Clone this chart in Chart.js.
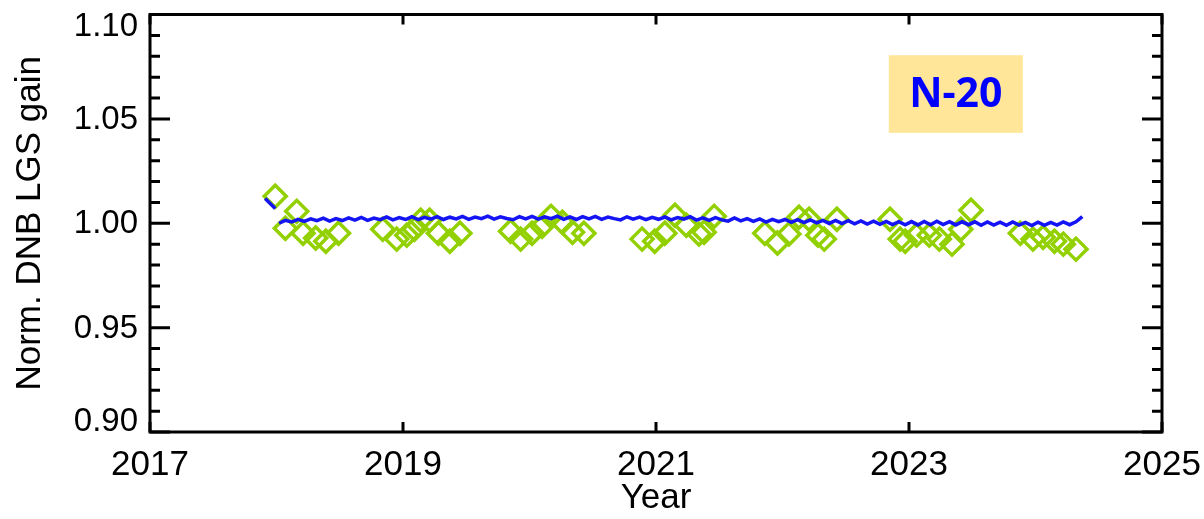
<!DOCTYPE html>
<html>
<head>
<meta charset="utf-8">
<script src="https://cdn.jsdelivr.net/npm/chart.js@4.4.1/dist/chart.umd.min.js"></script>
<style>
  html, body { margin: 0; padding: 0; background: #fff; }
  #wrap { width: 1204px; height: 519px; }
</style>
</head>
<body>
<div id="wrap"><canvas id="gainChart"></canvas></div>
<script>
// axis ticks
const yearTicks = [2017, 2019, 2021, 2023, 2025];
const gainTicks = [0.90, 0.95, 1.00, 1.05, 1.10];

// green diamonds: [year, normalized gain]
const lunarYears = [
  2017.99, 2018.16, 2018.07, 2018.21, 2018.31, 2018.39, 2018.49,
  2018.84, 2018.95, 2019.03, 2019.09, 2019.14, 2019.21, 2019.28, 2019.37, 2019.45,
  2019.85, 2019.93, 2020.02, 2020.10, 2020.17, 2020.26, 2020.34, 2020.43,
  2020.89, 2020.99, 2021.07, 2021.15, 2021.24, 2021.34, 2021.38, 2021.46,
  2021.86, 2021.96, 2022.05, 2022.13, 2022.21, 2022.28, 2022.33, 2022.43,
  2022.85, 2022.93, 2022.97, 2023.06, 2023.16, 2023.24, 2023.34, 2023.41, 2023.49,
  2023.88, 2023.98, 2024.06, 2024.15, 2024.22, 2024.32
];
const lunarGain = [
  1.0129, 1.0057, 0.9976, 0.9952, 0.9929, 0.9914, 0.9952,
  0.9971, 0.9924, 0.9943, 0.9971, 1.0014, 1.0014, 0.9952, 0.9914, 0.9952,
  0.9962, 0.9924, 0.9952, 0.9986, 1.0033, 1.0005, 0.9957, 0.9952,
  0.9924, 0.9914, 0.9952, 1.0038, 0.9990, 0.9948, 0.9957, 1.0033,
  0.9952, 0.9905, 0.9948, 1.0029, 1.0019, 0.9943, 0.9924, 1.0019,
  1.0019, 0.9924, 0.9914, 0.9943, 0.9943, 0.9924, 0.9900, 0.9971, 1.0062,
  0.9952, 0.9924, 0.9933, 0.9914, 0.9900, 0.9876
];

// blue trend: first short piece, then main record sampled every 0.05 yr
const earlyYears = [2017.91, 2017.95, 2017.99];
const earlyGain = [1.0119, 1.0095, 1.0071];
const gainStart = 2018.02;
const gainStep = 0.05;
const gainValues = [
  1.0000, 1.0014, 1.0006, 1.0019, 1.0009, 1.0021, 1.0012, 1.0024, 1.0010, 1.0022,
  1.0013, 1.0026, 1.0015, 1.0028, 1.0014, 1.0025, 1.0017, 1.0030, 1.0016, 1.0027,
  1.0018, 1.0031, 1.0017, 1.0028, 1.0020, 1.0032, 1.0018, 1.0029, 1.0021, 1.0033,
  1.0019, 1.0030, 1.0022, 1.0034, 1.0020, 1.0031, 1.0023, 1.0017, 1.0032, 1.0021,
  1.0033, 1.0020, 1.0031, 1.0022, 1.0034, 1.0019, 1.0030, 1.0018, 1.0032, 1.0021,
  1.0033, 1.0019, 1.0030, 1.0022, 1.0016, 1.0031, 1.0020, 1.0029, 1.0017, 1.0028,
  1.0019, 1.0030, 1.0016, 1.0027, 1.0020, 1.0031, 1.0015, 1.0026, 1.0014, 1.0027,
  1.0016, 1.0010, 1.0025, 1.0011, 1.0022, 1.0009, 1.0021, 1.0006, 1.0019, 1.0008,
  1.0018, 1.0004, 1.0017, 1.0003, 1.0016, 1.0002, 1.0014, 0.9999, 1.0013, 0.9998,
  1.0012, 0.9997, 1.0011, 0.9996, 1.0010, 0.9995, 1.0009, 0.9994, 1.0008, 0.9993,
  1.0008, 0.9992, 1.0009, 0.9993, 1.0010, 0.9994, 1.0008, 0.9992, 1.0007, 0.9993,
  1.0007, 0.9990, 1.0006, 0.9991, 1.0005, 0.9990, 1.0006, 0.9991, 1.0004, 0.9989,
  1.0005, 0.9990, 1.0004, 0.9991, 1.0006, 0.9993, 1.0007, 1.0032
];

const FONT = "'Liberation Sans', Arial, Helvetica, sans-serif";
const GREEN = 'rgb(146, 208, 0)';
const BLUE = 'rgb(20, 20, 245)';

const lunarPoints = lunarYears.map((x, i) => ({ x: x, y: lunarGain[i] }));
const earlyPoints = earlyYears.map((x, i) => ({ x: x, y: earlyGain[i] }));
const trendPoints = gainValues.map((v, i) => ({ x: gainStart + i * gainStep, y: v }));

// frame with inward ticks on all four sides, y labels kept inside the frame, N-20 box
const framePlugin = {
  id: 'frame',
  afterDraw(chart) {
    const ctx = chart.ctx;
    const a = chart.chartArea;
    const xs = chart.scales.x;
    const ys = chart.scales.y;
    ctx.save();
    ctx.strokeStyle = '#000';
    ctx.lineWidth = 3;
    ctx.lineCap = 'butt';
    ctx.beginPath();
    ctx.rect(a.left, a.top, a.right - a.left, a.bottom - a.top);
    ctx.stroke();

    ctx.beginPath();
    for (let k = 90; k <= 110; k++) {
      const py = ys.getPixelForValue(k / 100);
      const len = (k % 5 === 0) ? 20 : 10;
      ctx.moveTo(a.left, py); ctx.lineTo(a.left + len, py);
      ctx.moveTo(a.right, py); ctx.lineTo(a.right - len, py);
    }
    yearTicks.forEach(t => {
      const px = xs.getPixelForValue(t);
      ctx.moveTo(px, a.bottom); ctx.lineTo(px, a.bottom - 10);
      ctx.moveTo(px, a.top); ctx.lineTo(px, a.top + 10);
    });
    ctx.stroke();

    // y tick labels
    ctx.fillStyle = '#000';
    ctx.font = '33px ' + FONT;
    ctx.textAlign = 'right';
    ctx.textBaseline = 'middle';
    gainTicks.forEach(v => {
      let py = ys.getPixelForValue(v);
      py = Math.min(Math.max(py, a.top + 11), a.bottom - 11);
      ctx.fillText(v.toFixed(2), a.left - 12, py + 1);
    });

    // label box
    const bx0 = xs.getPixelForValue(2022.84), bx1 = xs.getPixelForValue(2023.90);
    const by0 = ys.getPixelForValue(1.0805), by1 = ys.getPixelForValue(1.0433);
    ctx.fillStyle = '#FFE699';
    ctx.fillRect(bx0, by0, bx1 - bx0, by1 - by0);
    ctx.fillStyle = '#0000FF';
    ctx.font = "bold 41px 'Noto Sans', 'Open Sans', sans-serif";
    ctx.textAlign = 'center';
    ctx.fillText('N-20', (bx0 + bx1) / 2, (by0 + by1) / 2 + 1);
    ctx.restore();
  }
};

const ctx = document.getElementById('gainChart').getContext('2d');
new Chart(ctx, {
  type: 'scatter',
  data: {
    datasets: [
      { label: 'Lunar', data: lunarPoints, pointStyle: 'rectRot', pointRadius: 11, pointBorderWidth: 3.5,
        borderColor: GREEN, backgroundColor: 'rgba(0,0,0,0)', showLine: false, order: 2 },
      { label: 'Early', data: earlyPoints, showLine: true, pointRadius: 0, borderWidth: 3.5,
        borderColor: BLUE, order: 1 },
      { label: 'Gain', data: trendPoints, showLine: true, pointRadius: 0, borderWidth: 3.5,
        borderColor: BLUE, order: 1 }
    ]
  },
  options: {
    responsive: true,
    maintainAspectRatio: false,
    animation: false,
    layout: { padding: { left: 0, top: 12, right: 42, bottom: 0 } },
    plugins: { legend: { display: false }, tooltip: { enabled: false } },
    scales: {
      x: {
        type: 'linear', min: 2017, max: 2025,
        afterBuildTicks: s => { s.ticks = yearTicks.map(v => ({ value: v })); },
        afterFit: s => { s.height = 87; s.paddingLeft = 0; s.paddingRight = 0; },
        grid: { display: false, drawTicks: false },
        border: { display: false },
        ticks: { color: '#000', padding: 12, maxRotation: 0, font: { family: FONT, size: 35 }, callback: v => String(v) },
        title: { display: true, text: 'Year', color: '#000', font: { family: FONT, size: 35 }, padding: { top: 9, bottom: 0 } }
      },
      y: {
        min: 0.90, max: 1.10,
        afterBuildTicks: s => { s.ticks = gainTicks.map(v => ({ value: v })); },
        afterFit: s => { s.width = 150; s.paddingTop = 0; s.paddingBottom = 0; },
        grid: { display: false, drawTicks: false },
        border: { display: false },
        ticks: { display: false },
        title: { display: true, text: 'Norm. DNB LGS gain', color: '#000', font: { family: FONT, size: 35 }, padding: { top: 9, bottom: 0 } }
      }
    }
  },
  plugins: [framePlugin]
});
</script>
</body>
</html>
